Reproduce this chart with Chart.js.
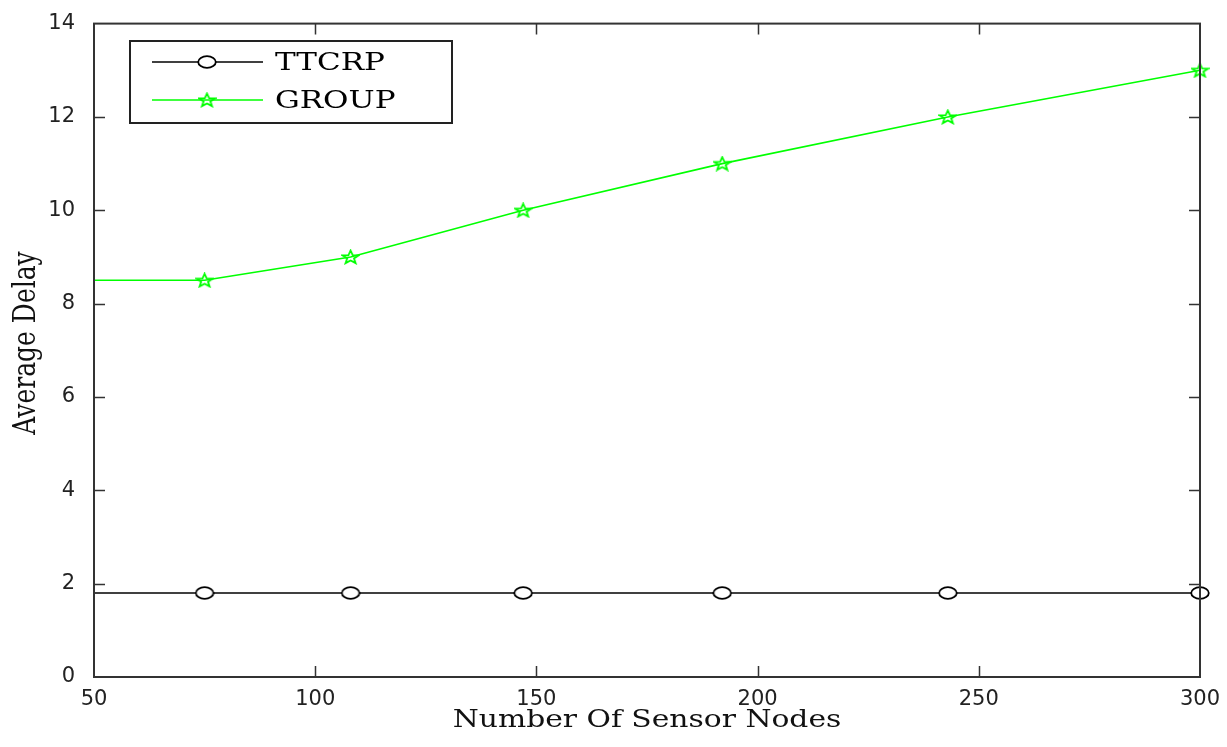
<!DOCTYPE html>
<html>
<head>
<meta charset="utf-8">
<script src="https://cdn.jsdelivr.net/npm/chart.js@4/dist/chart.umd.min.js"></script>
<style>
  html, body { margin: 0; padding: 0; background: #fff; }
  #wrap { width: 1227px; height: 747px; }
</style>
</head>
<body>
<div id="wrap"><canvas id="delayChart" width="1227" height="747"></canvas></div>
<script>
// data
const sensorNodes = [50, 75, 108, 147, 192, 243, 300];
const ttcrpDelay = [1.8, 1.8, 1.8, 1.8, 1.8, 1.8, 1.8];
const groupDelay = [8.5, 8.5, 9, 10, 11, 12, 13];
const xTicks = [50, 100, 150, 200, 250, 300];
const yTicks = [0, 2, 4, 6, 8, 10, 12, 14];
const xTitle = 'Number Of Sensor Nodes';
const yTitle = 'Average Delay';

// the source figure is stretched sideways, text included
const STRETCH = 1.24;
const serif = '"DejaVu Serif", "Liberation Serif", serif';

// pentagram marker (matlab 'p'), a bit wider than tall
function makeStar(w, h, color) {
  const c = document.createElement('canvas');
  c.width = w; c.height = h;
  const g = c.getContext('2d');
  const cx = w / 2, cy = h / 2 + 0.5, Rx = w / 2 - 1, Ry = h / 2 - 1;
  g.beginPath();
  for (let i = 0; i < 10; i++) {
    const k = i % 2 === 0 ? 1 : 0.42;
    const a = -Math.PI / 2 + i * Math.PI / 5;
    const px = cx + Rx * k * Math.cos(a), py = cy + Ry * k * Math.sin(a);
    if (i === 0) g.moveTo(px, py); else g.lineTo(px, py);
  }
  g.closePath();
  g.strokeStyle = color;
  g.lineWidth = 1.8;
  g.stroke();
  return c;
}

// circle marker (matlab 'o'), also stretched into an ellipse
function makeRing(w, h, color) {
  const c = document.createElement('canvas');
  c.width = w; c.height = h;
  const g = c.getContext('2d');
  g.beginPath();
  g.ellipse(w / 2, h / 2, w / 2 - 1.2, h / 2 - 1.2, 0, 0, Math.PI * 2);
  g.fillStyle = '#fff';
  g.fill();
  g.strokeStyle = color;
  g.lineWidth = 1.8;
  g.stroke();
  return c;
}

const starImg = makeStar(19, 16, '#00ff00');
const ringImg = makeRing(20, 14, '#000');

// no marker on the first (axis-edge) point
const markerSizes = sensorNodes.map((x, i) => i === 0 ? 0 : 7);

// frame, inward ticks on all four sides, axis titles and the boxed legend
const framePlugin = {
  id: 'frame',
  afterDraw(chart) {
    const { ctx, chartArea: a, scales } = chart;
    ctx.save();
    ctx.strokeStyle = '#333';
    ctx.lineWidth = 2;
    ctx.strokeRect(a.left, a.top, a.right - a.left, a.bottom - a.top);
    ctx.lineWidth = 1.5;
    const tl = 11;
    ctx.beginPath();
    xTicks.slice(1, -1).forEach(v => {
      const px = Math.round(scales.x.getPixelForValue(v)) + 0.5;
      ctx.moveTo(px, a.bottom); ctx.lineTo(px, a.bottom - tl);
      ctx.moveTo(px, a.top); ctx.lineTo(px, a.top + tl);
    });
    yTicks.slice(1, -1).forEach(v => {
      const py = Math.round(scales.y.getPixelForValue(v)) + 0.5;
      ctx.moveTo(a.left, py); ctx.lineTo(a.left + tl, py);
      ctx.moveTo(a.right, py); ctx.lineTo(a.right - tl, py);
    });
    ctx.stroke();

    // axis titles
    ctx.fillStyle = '#111';
    ctx.textAlign = 'center';
    ctx.textBaseline = 'middle';
    ctx.font = '24px ' + serif;
    ctx.save();
    ctx.translate((a.left + a.right) / 2, 721);
    ctx.scale(STRETCH, 1);
    ctx.fillText(xTitle, 0, 0);
    ctx.restore();
    ctx.font = '25px ' + serif;
    ctx.save();
    ctx.translate(27, 343);
    ctx.scale(STRETCH, 1);
    ctx.rotate(-Math.PI / 2);
    ctx.fillText(yTitle, 0, 0);
    ctx.restore();

    // legend box
    const bx = 130, by = 41, bw = 322, bh = 82;
    ctx.fillStyle = '#fff';
    ctx.fillRect(bx, by, bw, bh);
    ctx.strokeStyle = '#222';
    ctx.lineWidth = 2;
    ctx.strokeRect(bx, by, bw, bh);
    chart.data.datasets.forEach((ds, i) => {
      const y = by + 21 + i * 38;
      ctx.strokeStyle = ds.borderColor;
      ctx.lineWidth = 1.5;
      ctx.beginPath();
      ctx.moveTo(152, y); ctx.lineTo(263, y);
      ctx.stroke();
      const img = ds.pointStyle;
      ctx.drawImage(img, 207 - img.width / 2, y - img.height / 2);
      ctx.fillStyle = '#000';
      ctx.font = '25px ' + serif;
      ctx.textBaseline = 'middle';
      ctx.textAlign = 'left';
      ctx.save();
      ctx.translate(275, y + 1);
      ctx.scale(STRETCH, 1);
      ctx.fillText(ds.label, 0, 0);
      ctx.restore();
    });
    ctx.restore();
  }
};

const ctx = document.getElementById('delayChart').getContext('2d');
new Chart(ctx, {
  type: 'line',
  data: {
    datasets: [
      {
        label: 'TTCRP',
        data: sensorNodes.map((x, i) => ({ x: x, y: ttcrpDelay[i] })),
        borderColor: '#000',
        backgroundColor: '#fff',
        borderWidth: 1.6,
        pointStyle: ringImg,
        pointRadius: markerSizes,
        tension: 0,
        clip: false
      },
      {
        label: 'GROUP',
        data: sensorNodes.map((x, i) => ({ x: x, y: groupDelay[i] })),
        borderColor: '#00ff00',
        backgroundColor: '#00ff00',
        borderWidth: 1.6,
        pointStyle: starImg,
        pointRadius: markerSizes,
        tension: 0,
        clip: false
      }
    ]
  },
  options: {
    responsive: false,
    animation: false,
    layout: { padding: { top: 20, right: 27, left: 0, bottom: 0 } },
    plugins: {
      legend: { display: false },
      tooltip: { enabled: false }
    },
    scales: {
      x: {
        type: 'linear',
        min: 50,
        max: 300,
        afterBuildTicks: s => { s.ticks = xTicks.map(v => ({ value: v })); },
        afterFit: s => { s.height = 70; },
        grid: { display: false },
        border: { display: false },
        ticks: {
          color: '#222',
          padding: 2,
          maxRotation: 0,
          autoSkip: false,
          font: { family: '"DejaVu Sans", sans-serif', size: 21 }
        }
      },
      y: {
        min: 0,
        max: 14,
        afterBuildTicks: s => { s.ticks = yTicks.map(v => ({ value: v })); },
        afterFit: s => { s.width = 94; },
        grid: { display: false },
        border: { display: false },
        ticks: {
          color: '#222',
          padding: 11,
          autoSkip: false,
          font: { family: '"DejaVu Sans", sans-serif', size: 21 }
        }
      }
    }
  },
  plugins: [framePlugin]
});
</script>
</body>
</html>
